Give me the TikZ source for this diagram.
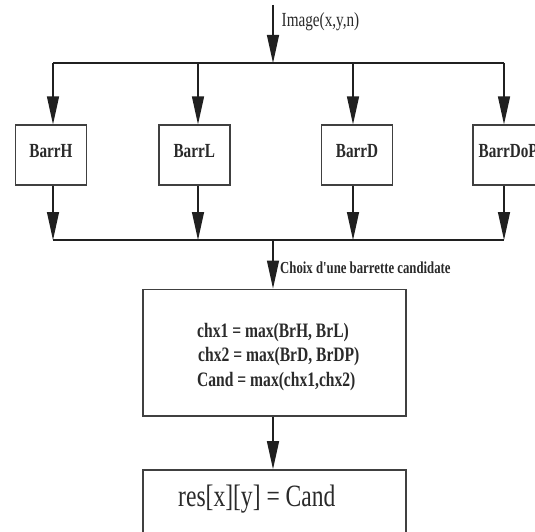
\documentclass[tikz,border=0pt]{standalone}
\usepackage{fontspec}
\setmainfont{Liberation Serif}
\newfontfamily\cond[FakeStretch=0.76]{Liberation Serif}
\usetikzlibrary{arrows.meta}
\definecolor{linec}{HTML}{202020}
\definecolor{boxc}{HTML}{404040}
\definecolor{txtc}{HTML}{2A2A2A}
\tikzset{
  arr/.style={draw=linec, line width=1.3pt, -{Triangle[length=28pt,width=12pt]}},
  bus/.style={draw=linec, line width=1.3pt},
  barr/.style={draw=boxc, line width=1.6pt, minimum width=71pt, minimum height=60pt,
    inner sep=0pt, text depth=8pt, font=\cond\bfseries\fontsize{20}{22}\selectfont, text=txtc},
  bigbox/.style={draw=boxc, line width=1.6pt, inner sep=0pt},
  lbl/.style={inner sep=0pt, anchor=base west, text=txtc},
}
\begin{document}
\begin{tikzpicture}[x=1pt,y=-1pt]
\useasboundingbox[fill=white] (0,0) rectangle (535,532);
% input and top bus
\coordinate (in) at (273,5);
\coordinate (busM) at (273,63);
\coordinate (b1) at (53,63);
\coordinate (b2) at (198,63);
\coordinate (b3) at (353,63);
\coordinate (b4) at (504,63);
% boxes
\node[barr] (hB) at (50.9,155.2) {BarrH};
\node[barr] (lB) at (194.2,155.2) {BarrL};
\node[barr] (dB) at (357,155.2) {BarrD};
\node[barr] (pB) at (508.2,155.2) {BarrDoP};
% lower bus
\coordinate (l1) at (53,240);
\coordinate (l4) at (504,240);
\coordinate (lM) at (273,240);
% big boxes
\node[bigbox, minimum width=263pt, minimum height=126.4pt] (calc) at (274.2,352.5) {};
\node[bigbox, minimum width=263pt, minimum height=90pt] (res) at (274.2,515) {};
% texts
\node[lbl, font=\cond\fontsize{20}{22}\selectfont] (inlbl) at (281.5,27) {Image(x,y,n)};
\node[lbl, font=\cond\bfseries\fontsize{16.8}{18}\selectfont] (choix) at (280,273) {Choix d'une barrette candidate};
\node[lbl, font=\cond\bfseries\fontsize{20.5}{22}\selectfont] (t1) at (197,337) {chx1 = max(BrH, BrL)};
\node[lbl, font=\cond\bfseries\fontsize{20.5}{22}\selectfont] (t2) at (198,361) {chx2 = max(BrD, BrDP)};
\node[lbl, font=\cond\bfseries\fontsize{20.5}{22}\selectfont] (t3) at (197,386) {Cand = max(chx1,chx2)};
\node[lbl, font=\cond\fontsize{31}{33}\selectfont] (restxt) at (178,506.7) {res[x][y] = Cand};
% connectors
\draw[arr] (in) -- (busM);
\draw[bus] (b1) -- (b4);
\draw[arr] (b1) -- (b1 |- hB.north);
\draw[arr] (b2) -- (b2 |- lB.north);
\draw[arr] (b3) -- (b3 |- dB.north);
\draw[arr] (b4) -- (b4 |- pB.north);
\draw[arr] (b1 |- hB.south) -- (l1);
\draw[arr] (b2 |- lB.south) -- (b2 |- l1);
\draw[arr] (b3 |- dB.south) -- (b3 |- l1);
\draw[arr] (b4 |- pB.south) -- (l4);
\draw[bus] (l1) -- (l4);
\draw[arr] (lM) -- (lM |- calc.north);
\draw[arr] (lM |- calc.south) -- (lM |- res.north);
\end{tikzpicture}
\end{document}
